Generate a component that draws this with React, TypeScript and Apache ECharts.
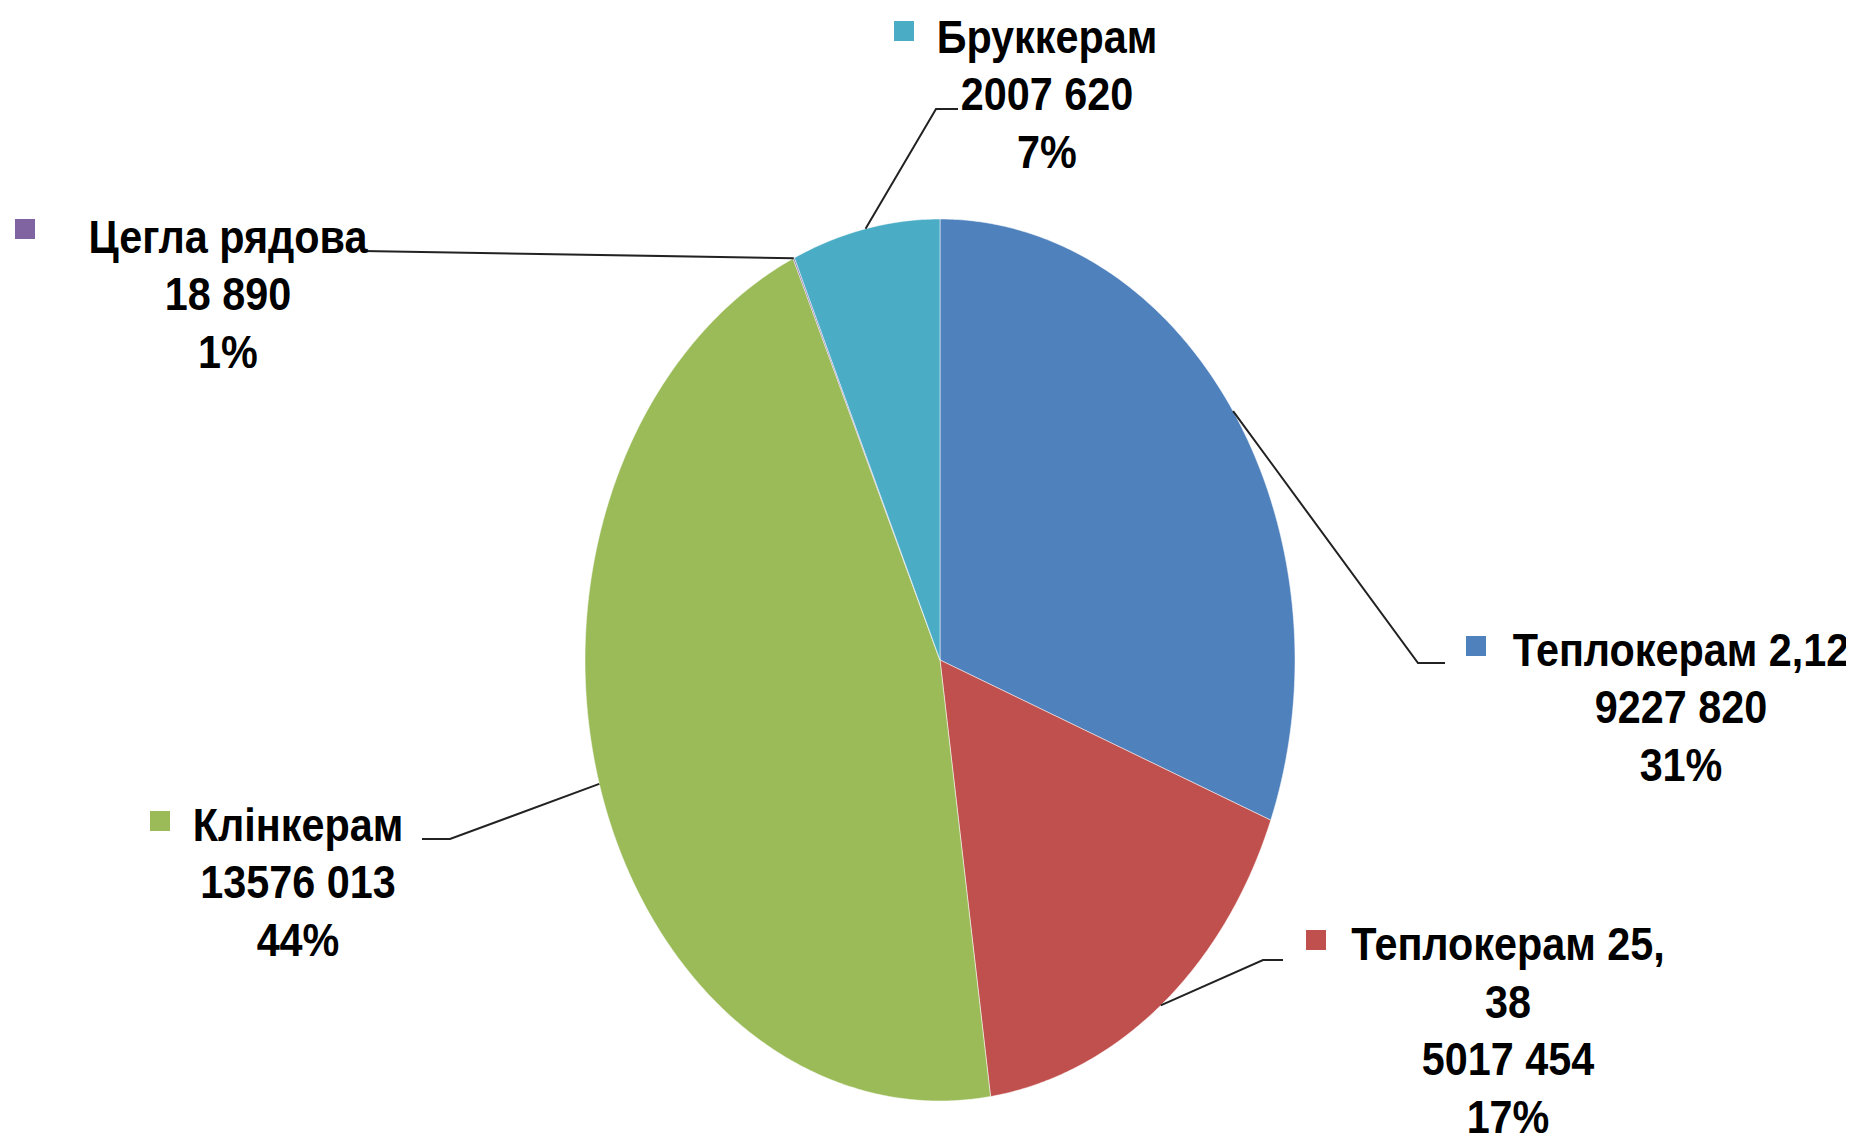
import React, { useEffect, useRef } from "react";
import * as echarts from "echarts";

const categories = ["Теплокерам 2,12", "Теплокерам 25,38", "Клінкерам", "Цегла рядова", "Бруккерам"];
const values = [9227820, 5017454, 13576013, 18890, 2007620];
const percentLabels = ["31%", "17%", "44%", "1%", "7%"];
const colors = ["#4F81BD", "#C0504D", "#9BBB59", "#8064A2", "#4BACC6"];

// layout (positions only)
const CX = 940;
const CY = 660;
const RX = 355;
const RY = 441;
const labelLayout = [
  { x: 1681, y: 707, mx: 1476, my: 646, line: [[1418, 663], [1445, 663]], wrapAt: 0 },
  { x: 1508, y: 1030, mx: 1316, my: 940, line: [[1263, 960], [1283, 960]], wrapAt: 14 },
  { x: 298, y: 882, mx: 160, my: 821, line: [[450, 839], [422, 839]], wrapAt: 0 },
  { x: 228, y: 294, mx: 25, my: 229, line: [[363, 251]], wrapAt: 0 },
  { x: 1047, y: 94, mx: 904, my: 31, line: [[936, 109], [958, 109]], wrapAt: 0 },
];

const fmt = (v: number) => {
  const hi = Math.floor(v / 1000);
  const lo = String(v % 1000).padStart(3, "0");
  return hi > 0 ? `${hi} ${lo}` : String(v);
};

export default function App() {
  const ref = useRef<HTMLDivElement>(null);
  useEffect(() => {
    if (!ref.current) return;
    const chart = echarts.init(ref.current, undefined, { renderer: "svg" });
    const total = values.reduce((a, b) => a + b, 0);
    const starts: number[] = [];
    let acc = 0;
    values.forEach((v) => {
      starts.push(acc);
      acc += v;
    });
    const pt = (t: number) => [CX + RX * Math.sin(t), CY - RY * Math.cos(t)];
    chart.setOption({
      animation: false,
      backgroundColor: "#ffffff",
      tooltip: { show: false },
      series: [
        {
          type: "custom",
          coordinateSystem: "none",
          silent: true,
          data: values.map((v, i) => ({ name: categories[i], value: [v, starts[i]] })),
          renderItem: (params: any, api: any) => {
            const i = params.dataIndex;
            const v = api.value(0);
            const s = api.value(1);
            const t0 = (s / total) * Math.PI * 2;
            const t1 = ((s + v) / total) * Math.PI * 2;
            const n = Math.max(2, Math.ceil(((t1 - t0) * 180) / Math.PI / 0.5));
            const pts: number[][] = [[CX, CY]];
            for (let k = 0; k <= n; k++) pts.push(pt(t0 + ((t1 - t0) * k) / n));
            const mid = pt((t0 + t1) / 2);
            const L = labelLayout[i];
            let name = categories[i];
            if (L.wrapAt) name = name.slice(0, L.wrapAt) + "\n" + name.slice(L.wrapAt);
            const text = `${name}\n${fmt(v)}\n${percentLabels[i]}`;
            return {
              type: "group",
              children: [
                {
                  type: "polygon",
                  shape: { points: pts },
                  style: { fill: colors[i], stroke: "rgba(255,255,255,0.5)", lineWidth: 1 },
                },
                {
                  type: "polyline",
                  shape: { points: [mid, ...L.line] },
                  style: { stroke: "#222222", lineWidth: 2, fill: null },
                },
                {
                  type: "rect",
                  shape: { x: L.mx - 10, y: L.my - 10, width: 20, height: 20 },
                  style: { fill: colors[i] },
                },
                {
                  type: "text",
                  x: L.x,
                  y: L.y,
                  scaleX: 0.88,
                  style: {
                    text,
                    x: 0,
                    y: 0,
                    align: "center",
                    verticalAlign: "middle",
                    fontFamily: '"Liberation Sans", Arial, sans-serif',
                    fontWeight: "bold",
                    fontSize: 47,
                    lineHeight: 57.5,
                    fill: "#000000",
                  },
                },
              ],
            };
          },
        },
      ],
    });
    return () => chart.dispose();
  }, []);
  return (
    <div
      ref={ref}
      style={{ position: "fixed", left: -8, top: -8, width: 1854, height: 1140, background: "#fff" }}
    />
  );
}
